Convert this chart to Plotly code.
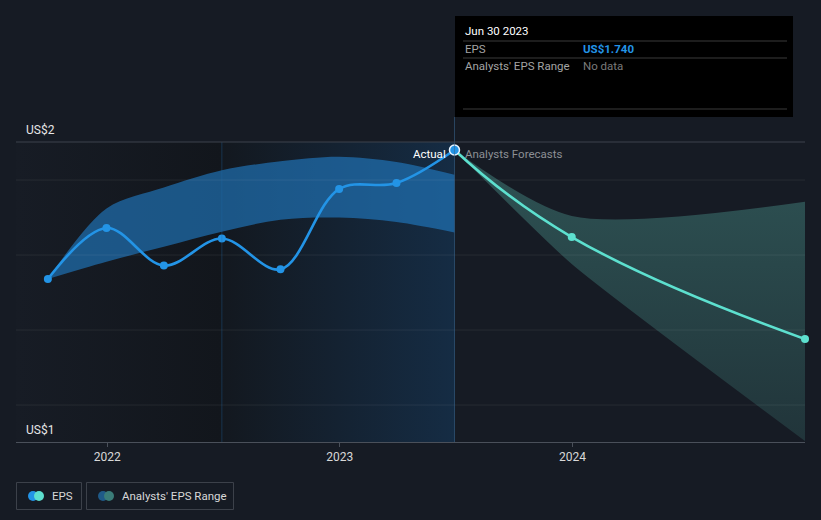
import plotly.graph_objects as go

# ---------------- data ----------------
eps_dates = ["2021-09-30", "2021-12-31", "2022-03-31", "2022-06-30",
             "2022-09-30", "2022-12-31", "2023-03-31", "2023-06-30"]
eps_values = [1.568, 1.636, 1.586, 1.622, 1.581, 1.688, 1.696, 1.740]

fc_dates = ["2023-06-30", "2023-12-31", "2024-12-31"]
fc_values = [1.740, 1.624, 1.488]
fc_low = [1.740, 1.588, 1.352]
fc_high = [1.740, 1.652, 1.671]

past_range_dates = ["2021-09-30", "2021-12-31", "2022-03-31", "2022-06-30",
                    "2022-09-30", "2022-12-31", "2023-03-31", "2023-06-30"]
past_range_high = [1.568, 1.662, 1.690, 1.713, 1.725, 1.731, 1.724, 1.707]
past_range_low = [1.568, 1.591, 1.611, 1.631, 1.647, 1.650, 1.644, 1.630]

x_start, x_end = "2021-08-11", "2024-12-31"
y_min, y_max = 1.3507, 1.7507
grid_vals = [1.4, 1.5, 1.6, 1.7]
year_ticks = ["2022-01-01", "2023-01-01", "2024-01-01"]
year_labels = ["2022", "2023", "2024"]
past_start, divider = "2022-06-30", "2023-06-30"

BG = "#161b24"
BLUE = "#2394e6"
TEAL = "#5de0cf"
FONT = "Roboto"

# pixel helpers (plot area: x 16..805, y 142..442)
def X(px):
    return (px - 16) / 789.0

def Y(py):
    return (442 - py) / 300.0

fig = go.Figure()

# left darker region
fig.add_trace(go.Scatter(
    x=[x_start, past_start, past_start, x_start, x_start],
    y=[y_min, y_min, y_max, y_max, y_min],
    fill="toself", mode="none", hoverinfo="skip",
    fillgradient=dict(type="horizontal",
                      colorscale=[[0, "#171c25"], [1, "#12161c"]]),
))
# past-year highlighted region
fig.add_trace(go.Scatter(
    x=[past_start, divider, divider, past_start, past_start],
    y=[y_min, y_min, y_max, y_max, y_min],
    fill="toself", mode="none", hoverinfo="skip",
    fillgradient=dict(type="horizontal",
                      colorscale=[[0, "#13181f"], [1, "#152c44"]]),
))

# past analyst range band
fig.add_trace(go.Scatter(
    x=past_range_dates, y=past_range_high, mode="lines",
    line=dict(width=0, shape="spline", smoothing=0.9), hoverinfo="skip",
))
fig.add_trace(go.Scatter(
    x=past_range_dates, y=past_range_low, mode="lines",
    line=dict(width=0, shape="spline", smoothing=1.0), hoverinfo="skip",
    fill="tonexty", fillcolor="rgba(33,120,190,0.65)",
))

# forecast range band
fig.add_trace(go.Scatter(
    x=fc_dates, y=fc_high, mode="lines",
    line=dict(width=0, shape="spline", smoothing=0.8), hoverinfo="skip",
))
fig.add_trace(go.Scatter(
    x=fc_dates, y=fc_low, mode="lines",
    line=dict(width=0, shape="spline", smoothing=0.5), hoverinfo="skip",
    fill="tonexty",
    fillgradient=dict(type="vertical",
                      colorscale=[[0, "rgba(66,129,124,0.25)"],
                                  [1, "rgba(66,129,124,0.55)"]]),
))

# gridlines (drawn over the shaded regions, under the lines)
gx, gy = [], []
for v in grid_vals:
    gx += [x_start, x_end, None]
    gy += [v, v, None]
fig.add_trace(go.Scatter(
    x=gx, y=gy, mode="lines", hoverinfo="skip",
    line=dict(color="rgba(255,255,255,0.07)", width=1),
))

# EPS actual
fig.add_trace(go.Scatter(
    x=eps_dates, y=eps_values, mode="lines+markers",
    line=dict(color=BLUE, width=2.6, shape="spline", smoothing=1.0),
    marker=dict(color=BLUE, size=8), hoverinfo="skip",
))
# EPS forecast
fig.add_trace(go.Scatter(
    x=fc_dates, y=fc_values, mode="lines+markers",
    line=dict(color=TEAL, width=2.6, shape="spline", smoothing=1.3),
    marker=dict(color=TEAL, size=8), hoverinfo="skip", cliponaxis=False,
))
# highlighted last actual point
fig.add_trace(go.Scatter(
    x=[eps_dates[-1]], y=[eps_values[-1]], mode="markers",
    marker=dict(color=BLUE, size=10, line=dict(color="#e8f4ff", width=1.5)),
    hoverinfo="skip", cliponaxis=False,
))

shapes = []
# vertical lines
shapes.append(dict(type="line", xref="x", yref="paper", x0=past_start, x1=past_start,
                   y0=0, y1=1, line=dict(color="rgba(35,105,165,0.35)", width=1)))
shapes.append(dict(type="line", xref="x", yref="paper", x0=divider, x1=divider,
                   y0=0, y1=Y(117), line=dict(color="rgba(55,100,140,0.6)", width=1)))
# top boundary
shapes.append(dict(type="line", xref="paper", yref="paper", x0=0, x1=1, y0=1, y1=1,
                   line=dict(color="#3d434d", width=1)))
# tooltip box
shapes.append(dict(type="rect", xref="paper", yref="paper", x0=X(455), x1=X(793),
                   y0=Y(117), y1=Y(16), fillcolor="#000000", line=dict(width=0), layer="above"))
for py in (41, 58, 109):
    shapes.append(dict(type="line", xref="paper", yref="paper", x0=X(463), x1=X(787),
                       y0=Y(py), y1=Y(py), line=dict(color="#3a3a3a", width=1), layer="above"))
# legend boxes
shapes.append(dict(type="rect", xref="paper", yref="paper", x0=X(16.5), x1=X(81.5),
                   y0=Y(509.5), y1=Y(482.5), line=dict(color="#3c414a", width=1),
                   fillcolor="rgba(0,0,0,0)"))
shapes.append(dict(type="rect", xref="paper", yref="paper", x0=X(86.5), x1=X(233.5),
                   y0=Y(509.5), y1=Y(482.5), line=dict(color="#3c414a", width=1),
                   fillcolor="rgba(0,0,0,0)"))
# legend icons
def circ(cx, cy, r, color):
    return dict(type="circle", xref="paper", yref="paper",
                x0=X(cx - r), x1=X(cx + r), y0=Y(cy + r), y1=Y(cy - r),
                fillcolor=color, line=dict(width=0))
shapes += [circ(33, 496, 5, BLUE), circ(39, 496, 5, TEAL),
           circ(103, 496, 5, "#1f5a88"), circ(109, 496, 5, "#3a7c78")]

ann = []
def text(px, py, s, color, size=12, anchor="left", bold=False):
    ann.append(dict(xref="paper", yref="paper", x=X(px), y=Y(py), text=("<b>%s</b>" % s) if bold else s,
                    showarrow=False, xanchor=anchor, yanchor="middle",
                    font=dict(family=FONT, size=size, color=color)))

text(24, 130, "US$2", "#e6e6e6", 12)
text(24, 430, "US$1", "#e6e6e6", 12)
text(448, 154, "Actual", "#ffffff", 11.5, anchor="right")
text(463, 154, "Analysts Forecasts", "#8c8f94", 11.5)
text(463, 31, "Jun 30 2023", "#ffffff", 11.5)
text(463, 49, "EPS", "#a4a4a4", 11.5)
text(581, 49, "US$1.740", BLUE, 11.5, bold=True)
text(463, 66, "Analysts' EPS Range", "#a4a4a4", 11.5)
text(581, 66, "No data", "#7a7a7a", 11.5)
text(50, 496, "EPS", "#d8d8d8", 11.5)
text(120, 496, "Analysts' EPS Range", "#d8d8d8", 11.5)

fig.update_layout(
    width=821, height=520,
    margin=dict(l=16, r=16, t=142, b=78),
    paper_bgcolor=BG, plot_bgcolor=BG,
    showlegend=False, hovermode=False,
    shapes=shapes, annotations=ann,
    font=dict(family=FONT, color="#d0d0d0"),
    xaxis=dict(range=[x_start, x_end], type="date", tickvals=year_ticks, ticktext=year_labels,
               showgrid=False, showline=True, linecolor="#4a505a", linewidth=1,
               ticks="outside", ticklen=4, tickcolor="#4a505a",
               tickfont=dict(family=FONT, size=12, color="#d8d8d8"), zeroline=False,
               fixedrange=True),
    yaxis=dict(range=[y_min, y_max], tickvals=grid_vals, showticklabels=False,
               showgrid=False, zeroline=False, showline=False, fixedrange=True),
)

fig.write_html(
    "out.html",
    config={"displayModeBar": False},
    post_script="document.body.style.margin='0';document.body.style.padding='0';"
                "document.body.style.background='%s';document.body.style.overflow='hidden';" % BG,
)
